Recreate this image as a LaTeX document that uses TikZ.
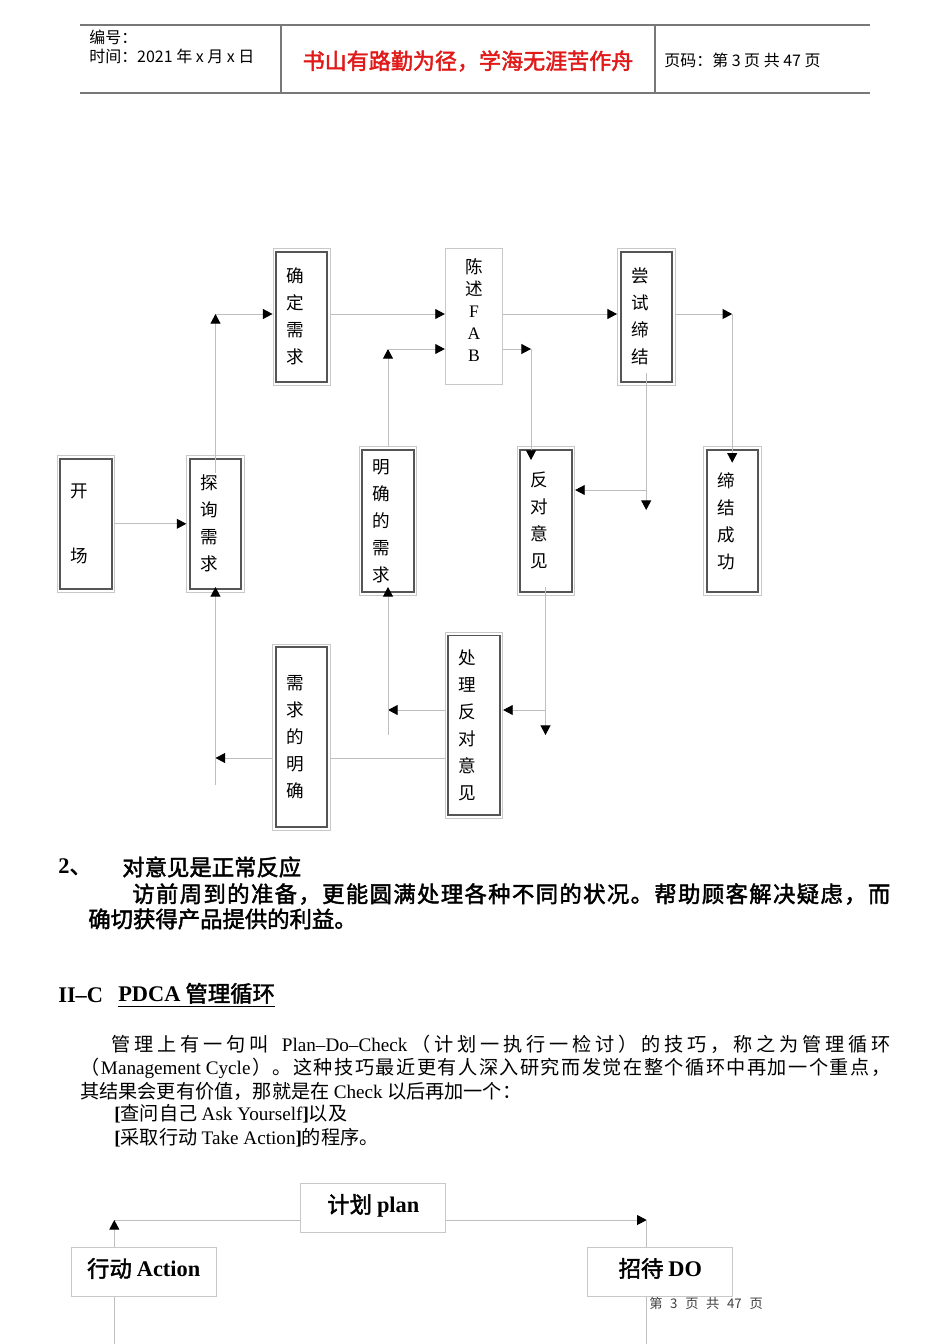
\documentclass[tikz,border=0pt]{standalone}
\usepackage{fontspec}
\setmainfont{Noto Sans CJK SC}[BoldFont = Noto Sans CJK SC, BoldFeatures = {FakeBold = 2}]
\newfontfamily\lat{Liberation Serif}
\usetikzlibrary{arrows.meta}
\definecolor{linegray}{RGB}{190,190,190}
\definecolor{boxgray}{RGB}{200,200,200}
\definecolor{framegray}{RGB}{85,85,85}
\definecolor{rulegray}{RGB}{120,120,120}
\definecolor{mottored}{RGB}{225,25,25}
\ExplSyntaxOn
\cs_new_protected:Npn \spread_items:n #1
  {
    \bool_set_true:N \l_tmpa_bool
    \tl_map_inline:nn {#1}
      {
        \bool_if:NF \l_tmpa_bool { \hfil }
        \bool_set_false:N \l_tmpa_bool
        ##1
      }
  }
\NewDocumentCommand \spreadline { m m }
  { \makebox [ #1 ] [ s ] { \spread_items:n { #2 } } }
\ExplSyntaxOff

\begin{document}
\begin{tikzpicture} [x = 0.626pt, y = -0.626pt,
	box/.style = {draw = boxgray, line width = 0.5pt, minimum width = 36pt, text width = 19pt, inner xsep = 8.5pt, inner ysep = 0pt, align = left, font = \fontsize{11}{16.9}\selectfont},
	framed/.style = {box, path picture = {\draw [framegray, line width = 1.2pt] ([shift = {(2pt,-2pt)}]path picture bounding box.north west) rectangle ([shift = {(-2pt,2pt)}]path picture bounding box.south east);}},
	conn/.style = {draw = linegray, line width = 0.6pt},
	flow/.style = {conn, -{Triangle[color = black, length = 6pt, width = 6.2pt]}},
	plain/.style = {anchor = west, inner sep = 0pt},
	pbox/.style = {draw = boxgray, line width = 0.6pt, minimum width = 90.6pt, minimum height = 30.7pt, fill = white, text depth = 0.5em, font = \fontsize{14}{16}\selectfont\bfseries}]
	\fill [white] (0,0) rectangle (950,1344);
	\useasboundingbox (0,0) rectangle (950,1344);

	\draw [rulegray, line width = 1pt] (80,25) -- (870,25);
	\draw [rulegray, line width = 1pt] (80,93) -- (870,93);
	\draw [rulegray, line width = 0.7pt] (281,25) -- (281,93);
	\draw [rulegray, line width = 0.7pt] (655,25) -- (655,93);
	\node [plain, font = \fontsize{10}{12}\selectfont] (serial) at (89,37) {编号：};
	\node [plain, font = \fontsize{10}{12}\selectfont] (date) at (89,56) {时间：2021 年 x 月 x 日};
	\node [text = mottored, font = \fontsize{13.8}{16}\selectfont\bfseries] (motto) at (468,61) {书山有路勤为径，学海无涯苦作舟};
	\node [plain, font = \fontsize{10}{12}\selectfont] (pageno) at (664,60) {页码：第 3 页 共 47 页};

	\node [framed, minimum height = 85.4pt] (confirm) at (301.7,316.7) {确\\定\\需\\求};
	\node [box, align = center, minimum height = 85.6pt, text depth = 63pt, font = \fontsize{11}{13.8}\selectfont] (fab) at (474,316.5) {陈\\述\\{\lat F}\\{\lat A}\\{\lat B}};
	\node [framed, minimum height = 85.4pt] (attempt) at (646.2,316.7) {尝\\试\\缔\\结};
	\node [framed, minimum height = 85.4pt] (opening) at (86,523.8) {开\\[23.8pt]场};
	\node [framed, minimum height = 85.4pt] (probe) at (215.5,523.8) {探\\询\\需\\求};
	\node [framed, minimum height = 92.8pt] (clear) at (388,520.8) {明\\确\\的\\需\\求};
	\node [framed, minimum height = 92.8pt] (object) at (546,520.8) {反\\对\\意\\见};
	\node [framed, minimum height = 92.8pt] (success) at (732.2,520.8) {缔\\结\\成\\功};
	\node [framed, minimum height = 116.4pt] (needs) at (301.3,737.2) {需\\求\\的\\明\\确};
	\node [framed, minimum height = 116.4pt] (handle) at (474,725.3) {处\\理\\反\\对\\意\\见};

	\coordinate (probeout) at (215.5,473);
	\coordinate (bend1) at (215.5,314);
	\coordinate (bend2) at (388,349);
	\coordinate (bend3) at (531,349);
	\coordinate (objectin) at (531,460);
	\coordinate (attemptout) at (646.2,373);
	\coordinate (bend4) at (646.2,490);
	\coordinate (drop1) at (646.2,510);
	\coordinate (bend5) at (732.2,314);
	\coordinate (successin) at (732.2,462.7);
	\coordinate (objectout) at (545.5,587);
	\coordinate (bend6) at (545.5,710);
	\coordinate (drop2) at (545.5,735);
	\coordinate (bend7) at (388,710);
	\coordinate (rise1) at (388,735);
	\coordinate (clearin) at (388,587);
	\coordinate (bend8) at (215.5,758);
	\coordinate (rise2) at (215.5,785);
	\coordinate (probein) at (215.5,587);

	\draw [flow] (opening) -- (probe);
	\draw [flow] (probeout) -- (bend1);
	\draw [flow] (bend1) -- (bend1 -| confirm.west);
	\draw [flow] (confirm.east |- bend1) -- (fab.west |- bend1);
	\draw [flow] (clear.north) -- (bend2);
	\draw [flow] (bend2) -- (bend2 -| fab.west);
	\draw [flow] (fab.east |- bend1) -- (attempt.west |- bend1);
	\draw [flow] (fab.east |- bend2) -- (bend3);
	\draw [flow] (bend3) -- (objectin);
	\draw [conn] (attemptout) -- (bend4);
	\draw [flow] (bend4) -- (bend4 -| object.east);
	\draw [flow] (bend4) -- (drop1);
	\draw [flow] (attempt.east |- bend1) -- (bend5);
	\draw [flow] (bend5) -- (successin);
	\draw [conn] (objectout) -- (bend6);
	\draw [flow] (bend6) -- (bend6 -| handle.east);
	\draw [flow] (bend6) -- (drop2);
	\draw [flow] (handle.west |- bend6) -- (bend7);
	\draw [flow] (rise1) -- (clearin);
	\draw [conn] (handle.west |- bend8) -- (needs.east |- bend8);
	\draw [flow] (needs.west |- bend8) -- (bend8);
	\draw [flow] (rise2) -- (probein);

	\node [plain, font = \fontsize{14}{16}\selectfont\bfseries] (secnum) at (58,867) {{\lat 2}、};
	\node [plain, font = \fontsize{14}{16}\selectfont\bfseries] (sectitle) at (122,867) {对意见是正常反应};
	\node [plain, font = \fontsize{14}{16}\selectfont\bfseries] (secline1) at (132,894) {\spreadline{474.5pt}{访前周到的准备，更能圆满处理各种不同的状况。帮助顾客解决疑虑，而}};
	\node [plain, font = \fontsize{14}{16}\selectfont\bfseries] (secline2) at (88,919) {确切获得产品提供的利益。};

	\node [plain, font = \fontsize{14}{16}\selectfont\bfseries] (pdcanum) at (58,995) {\lat II–C};
	\node [plain, font = \fontsize{14}{16}\selectfont\bfseries] (pdcatitle) at (118,995) {\underline{{\lat PDCA} 管理循环}};

	\node [plain, font = \fontsize{12}{14}\selectfont] (para1) at (111,1044) {\spreadline{487.7pt}{管理上有一句叫{{\lat\ \ Plan–Do–Check}}（计划一执行一检讨）的技巧，称之为管理循环}};
	\node [plain, font = \fontsize{12}{14}\selectfont] (para2) at (80,1068) {\spreadline{507.1pt}{（{{\lat Management\ Cycle}}）。这种技巧最近更有人深入研究而发觉在整个循环中再加一个重点，}};
	\node [plain, font = \fontsize{12}{14}\selectfont] (para3) at (80,1091) {其结果会更有价值，那就是在 {\lat Check} 以后再加一个：};
	\node [plain, font = \fontsize{12}{14}\selectfont] (para4) at (114,1114) {{\lat\bfseries [}查问自己 {\lat Ask Yourself}{\lat\bfseries ]}以及};
	\node [plain, font = \fontsize{12}{14}\selectfont] (para5) at (114,1138) {{\lat\bfseries [}采取行动 {\lat Take Action}{\lat\bfseries ]}的程序。};

	\node [pbox] (plan) at (373.3,1207.5) {计划 {\lat plan}};
	\node [pbox] (act) at (143.7,1271.5) {行动 {\lat Action}};
	\node [pbox] (exec) at (660.3,1271.5) {招待 {\lat DO}};
	\coordinate (pdcaL) at (114.3,1220);
	\coordinate (pdcaR) at (646.7,1220);
	\coordinate (pdcaLb) at (114.3,1344);
	\coordinate (pdcaRb) at (646.7,1344);
	\draw [conn] (plan.west |- pdcaL) -- (pdcaL);
	\draw [flow] (act.north -| pdcaL) -- (pdcaL);
	\draw [conn] (act.south -| pdcaL) -- (pdcaLb);
	\draw [flow] (plan.east |- pdcaR) -- (pdcaR);
	\draw [conn] (pdcaR) -- (exec.north -| pdcaR);
	\draw [conn] (exec.south -| pdcaR) -- (pdcaRb);

	\node [plain, text = black!75, font = \fontsize{8.3}{10}\selectfont] (footer) at (649,1303) {第\hspace{4.8pt}3\hspace{4.8pt}页\hspace{4.8pt}共\hspace{4.8pt}47\hspace{4.8pt}页};
\end{tikzpicture}
\end{document}
